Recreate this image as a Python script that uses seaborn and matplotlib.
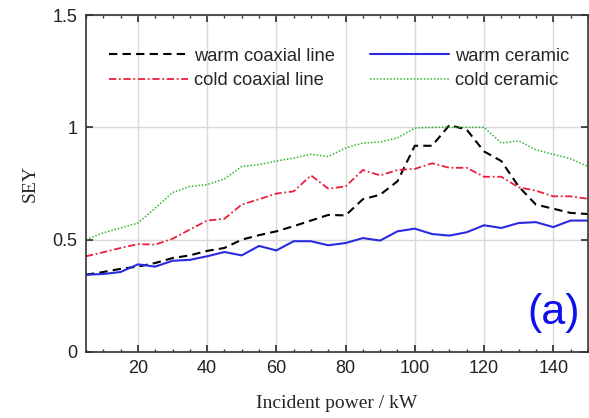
import numpy as np
import pandas as pd
import matplotlib
matplotlib.use("Agg")
import matplotlib.pyplot as plt
from matplotlib.ticker import MultipleLocator
import seaborn as sns

# Incident power (kW)
power = list(range(5, 151, 5))

# Secondary electron yield for each configuration
warm_coaxial = [0.344, 0.356, 0.370, 0.380, 0.396, 0.418, 0.430, 0.450, 0.463, 0.500,
                0.520, 0.537, 0.560, 0.585, 0.610, 0.608, 0.680, 0.700, 0.760, 0.918,
                0.918, 1.010, 0.990, 0.893, 0.850, 0.737, 0.656, 0.638, 0.619, 0.614]
warm_ceramic = [0.344, 0.347, 0.356, 0.390, 0.380, 0.406, 0.410, 0.426, 0.445, 0.430,
                0.472, 0.452, 0.493, 0.493, 0.475, 0.485, 0.507, 0.496, 0.537, 0.549,
                0.525, 0.518, 0.533, 0.564, 0.552, 0.574, 0.578, 0.556, 0.585, 0.585]
cold_coaxial = [0.426, 0.444, 0.463, 0.480, 0.478, 0.504, 0.545, 0.585, 0.593, 0.656,
                0.680, 0.705, 0.715, 0.786, 0.727, 0.737, 0.810, 0.786, 0.810, 0.815,
                0.840, 0.820, 0.820, 0.780, 0.780, 0.733, 0.718, 0.693, 0.693, 0.682]
cold_ceramic = [0.500, 0.530, 0.552, 0.574, 0.640, 0.710, 0.737, 0.745, 0.770, 0.826,
                0.834, 0.850, 0.863, 0.880, 0.870, 0.908, 0.930, 0.935, 0.953, 0.997,
                1.000, 1.000, 1.000, 1.000, 0.930, 0.940, 0.900, 0.880, 0.860, 0.826]

series_names = ["warm coaxial line", "cold coaxial line", "warm ceramic", "cold ceramic"]
series_values = [warm_coaxial, cold_coaxial, warm_ceramic, cold_ceramic]
styles = {
    "warm coaxial line": dict(color="black", linestyle=(0, (4, 2.5)), linewidth=1.5),
    "cold coaxial line": dict(color="#e8203a", linestyle=(0, (4, 1.5, 1, 1.5)), linewidth=1.3),
    "warm ceramic": dict(color="#2a2ae0", linestyle="-", linewidth=1.5),
    "cold ceramic": dict(color="#2fb52f", linestyle=(0, (1, 1.2)), linewidth=1.1),
}

df = pd.DataFrame({
    "power": power * len(series_names),
    "sey": sum(series_values, []),
    "series": sum([[n] * len(power) for n in series_names], []),
})

sns.set_theme(style="white")
plt.rcParams["font.family"] = ["Liberation Sans", "DejaVu Sans"]

fig = plt.figure(figsize=(5.89, 4.18), dpi=100)
ax = fig.add_axes([0.146, 0.158, 0.852, 0.806])

for name in series_names:
    sub = df[df["series"] == name]
    sns.lineplot(data=sub, x="power", y="sey", ax=ax, label=name, **styles[name])

ax.set_xlim(5, 150)
ax.set_ylim(0, 1.5)
ax.xaxis.set_major_locator(MultipleLocator(20))
ax.xaxis.set_minor_locator(MultipleLocator(5))
ax.set_yticks([0, 0.5, 1, 1.5])
ax.set_yticklabels(["0", "0.5", "1", "1.5"])

ax.grid(True, which="major", color="#d9d9d9", linewidth=1.0)
ax.set_axisbelow(True)
for sp in ax.spines.values():
    sp.set_color("#333333")
    sp.set_linewidth(1.2)

ax.tick_params(which="both", direction="in", top=True, right=True,
               bottom=True, left=True, colors="#333333", labelcolor="#222222")
ax.tick_params(which="major", length=5, labelsize=13, pad=6)
ax.tick_params(which="minor", length=2.5)

ax.set_xlabel("Incident power / kW", family=["Liberation Serif"], fontsize=14, labelpad=13)
ax.set_ylabel("SEY", family=["Liberation Serif"], fontsize=14, labelpad=10)

ax.legend(loc="upper left", bbox_to_anchor=(0.032, 0.925), ncol=2, frameon=False,
          fontsize=13.2, handlelength=4.3, handletextpad=0.3, columnspacing=1.95,
          labelspacing=0.4, borderaxespad=0)

ax.text(0.985, 0.055, "(a)", transform=ax.transAxes, ha="right", va="bottom",
        fontsize=31, color="#1010ee")

fig.savefig("out.png", dpi=100)
